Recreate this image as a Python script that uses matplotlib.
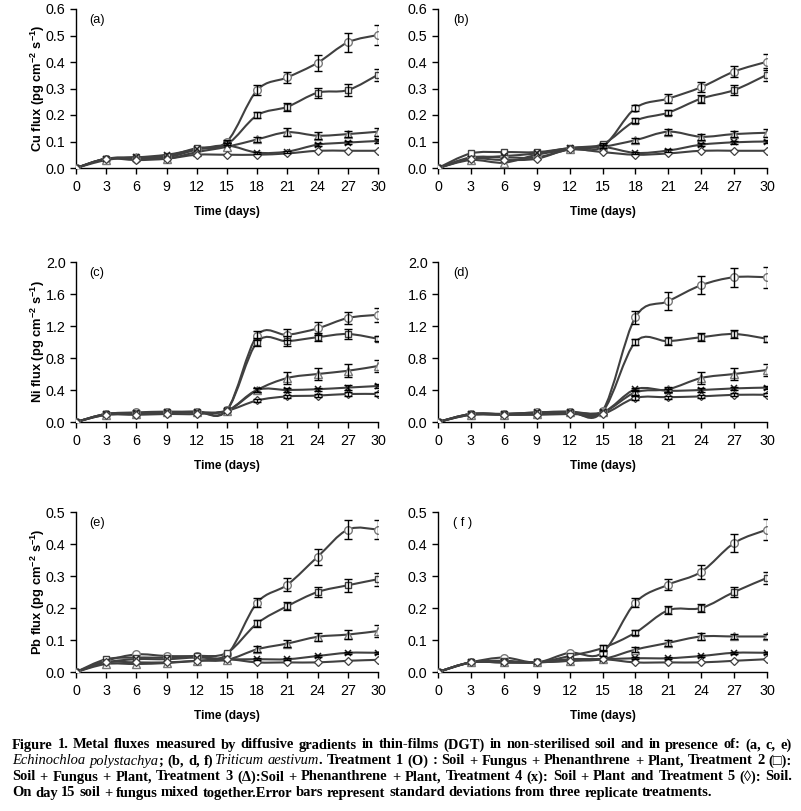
import matplotlib
matplotlib.use("Agg")
import matplotlib.pyplot as plt
from matplotlib.path import Path
from matplotlib.patches import PathPatch

plt.rcParams['font.family'] = ['Liberation Sans', 'DejaVu Sans']
plt.rcParams['mathtext.fontset'] = 'custom'
plt.rcParams['mathtext.rm'] = 'Liberation Sans:bold'
plt.rcParams['mathtext.it'] = 'Liberation Sans:bold'
plt.rcParams['mathtext.bf'] = 'Liberation Sans:bold'
plt.rcParams['mathtext.default'] = 'rm'

days = [0, 3, 6, 9, 12, 15, 18, 21, 24, 27, 30]
x_ticks = [0, 3, 6, 9, 12, 15, 18, 21, 24, 27, 30]

# ---- (a) Cu, Echinochloa polystachya
a_t1 = [0, 0.035, 0.035, 0.04, 0.07, 0.10, 0.294, 0.342, 0.397, 0.474, 0.502]
a_t2 = [0, 0.035, 0.04, 0.045, 0.075, 0.09, 0.199, 0.231, 0.284, 0.294, 0.352]
a_t3 = [0, 0.03, 0.04, 0.035, 0.06, 0.08, 0.108, 0.135, 0.122, 0.128, 0.137]
a_t4 = [0, 0.035, 0.04, 0.05, 0.07, 0.085, 0.058, 0.062, 0.088, 0.096, 0.102]
a_t5 = [0, 0.035, 0.03, 0.035, 0.05, 0.05, 0.05, 0.055, 0.065, 0.065, 0.065]
a_e1 = [0, 0, 0, 0, 0, 0.005, 0.02, 0.022, 0.03, 0.035, 0.038]
a_e2 = [0, 0, 0, 0, 0, 0.005, 0.012, 0.015, 0.018, 0.022, 0.022]
a_e3 = [0, 0, 0, 0, 0, 0, 0.01, 0.015, 0.012, 0.012, 0.015]
a_e4 = [0, 0, 0, 0, 0, 0, 0.004, 0.004, 0.006, 0.006, 0.006]
a_e5 = [0, 0, 0, 0, 0, 0, 0, 0, 0, 0, 0]

# ---- (b) Cu, Triticum aestivum
b_t1 = [0, 0.04, 0.04, 0.04, 0.07, 0.08, 0.226, 0.262, 0.305, 0.364, 0.401]
b_t2 = [0, 0.055, 0.06, 0.06, 0.075, 0.09, 0.178, 0.209, 0.262, 0.294, 0.352]
b_t3 = [0, 0.03, 0.02, 0.05, 0.07, 0.08, 0.105, 0.137, 0.118, 0.128, 0.133]
b_t4 = [0, 0.035, 0.045, 0.055, 0.075, 0.08, 0.057, 0.066, 0.088, 0.097, 0.10]
b_t5 = [0, 0.035, 0.03, 0.035, 0.07, 0.06, 0.05, 0.055, 0.065, 0.065, 0.065]
b_e1 = [0, 0, 0, 0, 0, 0.005, 0.012, 0.018, 0.02, 0.022, 0.03]
b_e2 = [0, 0, 0, 0, 0, 0.005, 0.01, 0.01, 0.015, 0.02, 0.025]
b_e3 = [0, 0, 0, 0, 0, 0, 0.01, 0.012, 0.012, 0.012, 0.015]
b_e4 = [0, 0, 0, 0, 0, 0, 0.005, 0.005, 0.006, 0.006, 0.006]
b_e5 = [0, 0, 0, 0, 0, 0, 0, 0, 0, 0, 0]

# ---- (c) Ni, Echinochloa polystachya
c_t1 = [0, 0.10, 0.12, 0.13, 0.13, 0.15, 1.08, 1.09, 1.17, 1.30, 1.34]
c_t2 = [0, 0.10, 0.11, 0.12, 0.13, 0.15, 1.00, 1.01, 1.06, 1.10, 1.04]
c_t3 = [0, 0.09, 0.10, 0.12, 0.12, 0.14, 0.40, 0.55, 0.60, 0.64, 0.70]
c_t4 = [0, 0.10, 0.11, 0.12, 0.12, 0.14, 0.40, 0.40, 0.41, 0.43, 0.45]
c_t5 = [0, 0.09, 0.09, 0.10, 0.10, 0.14, 0.27, 0.32, 0.33, 0.35, 0.35]
c_e1 = [0, 0, 0, 0, 0, 0, 0.06, 0.07, 0.08, 0.08, 0.09]
c_e2 = [0, 0, 0, 0, 0, 0, 0.05, 0.06, 0.05, 0.06, 0.03]
c_e3 = [0, 0, 0, 0, 0, 0, 0.03, 0.07, 0.07, 0.08, 0.08]
c_e4 = [0, 0, 0, 0, 0, 0, 0.02, 0.03, 0.02, 0.03, 0.03]
c_e5 = [0, 0, 0, 0, 0, 0, 0.02, 0.02, 0.02, 0.02, 0.02]

# ---- (d) Ni, Triticum aestivum
d_t1 = [0, 0.10, 0.10, 0.12, 0.13, 0.14, 1.31, 1.51, 1.71, 1.81, 1.81]
d_t2 = [0, 0.10, 0.10, 0.11, 0.12, 0.13, 1.00, 1.01, 1.06, 1.10, 1.04]
d_t3 = [0, 0.09, 0.09, 0.10, 0.12, 0.12, 0.37, 0.41, 0.55, 0.60, 0.65]
d_t4 = [0, 0.10, 0.10, 0.12, 0.13, 0.12, 0.41, 0.39, 0.40, 0.42, 0.43]
d_t5 = [0, 0.09, 0.09, 0.09, 0.10, 0.10, 0.30, 0.31, 0.32, 0.34, 0.34]
d_e1 = [0, 0, 0, 0, 0, 0, 0.08, 0.11, 0.11, 0.12, 0.13]
d_e2 = [0, 0, 0, 0, 0, 0, 0.04, 0.05, 0.05, 0.05, 0.04]
d_e3 = [0, 0, 0, 0, 0, 0, 0.03, 0.03, 0.07, 0.08, 0.08]
d_e4 = [0, 0, 0, 0, 0, 0, 0.02, 0.02, 0.02, 0.02, 0.02]
d_e5 = [0, 0, 0, 0, 0, 0, 0.02, 0.02, 0.02, 0.02, 0.02]

# ---- (e) Pb, Echinochloa polystachya
e_t1 = [0, 0.035, 0.055, 0.05, 0.05, 0.055, 0.217, 0.273, 0.36, 0.445, 0.445]
e_t2 = [0, 0.04, 0.045, 0.045, 0.05, 0.06, 0.152, 0.206, 0.25, 0.271, 0.29]
e_t3 = [0, 0.025, 0.025, 0.028, 0.035, 0.038, 0.071, 0.089, 0.11, 0.117, 0.128]
e_t4 = [0, 0.03, 0.04, 0.04, 0.045, 0.04, 0.04, 0.04, 0.05, 0.06, 0.06]
e_t5 = [0, 0.03, 0.03, 0.03, 0.035, 0.04, 0.03, 0.03, 0.03, 0.035, 0.038]
e_e1 = [0, 0, 0, 0, 0, 0, 0.015, 0.02, 0.025, 0.03, 0.03]
e_e2 = [0, 0, 0, 0, 0, 0, 0.01, 0.012, 0.015, 0.02, 0.02]
e_e3 = [0, 0, 0, 0, 0, 0, 0.01, 0.01, 0.012, 0.015, 0.018]
e_e4 = [0, 0, 0, 0, 0, 0, 0.003, 0.003, 0.004, 0.004, 0.004]
e_e5 = [0, 0, 0, 0, 0, 0, 0, 0, 0, 0, 0]

# ---- (f) Pb, Triticum aestivum
f_t1 = [0, 0.03, 0.045, 0.03, 0.06, 0.06, 0.217, 0.273, 0.313, 0.403, 0.445]
f_t2 = [0, 0.03, 0.035, 0.03, 0.05, 0.075, 0.123, 0.193, 0.20, 0.25, 0.294]
f_t3 = [0, 0.03, 0.03, 0.03, 0.035, 0.04, 0.07, 0.091, 0.111, 0.111, 0.111]
f_t4 = [0, 0.03, 0.03, 0.03, 0.04, 0.04, 0.043, 0.043, 0.05, 0.06, 0.06]
f_t5 = [0, 0.03, 0.03, 0.03, 0.035, 0.04, 0.03, 0.03, 0.03, 0.035, 0.04]
f_e1 = [0, 0, 0, 0, 0, 0.01, 0.015, 0.018, 0.022, 0.028, 0.032]
f_e2 = [0, 0, 0, 0, 0, 0.008, 0.008, 0.012, 0.012, 0.015, 0.02]
f_e3 = [0, 0, 0, 0, 0, 0, 0.008, 0.01, 0.01, 0.008, 0.008]
f_e4 = [0, 0, 0, 0, 0, 0, 0.003, 0.003, 0.004, 0.004, 0.004]
f_e5 = [0, 0, 0, 0, 0, 0, 0, 0, 0, 0, 0]

panel_letters = ['(a)', '(b)', '(c)', '(d)', '(e)', '( f )']
y_labels = ['Cu flux (pg cm$^{-2}$ s$^{-1}$)', None,
            'Ni flux (pg cm$^{-2}$ s$^{-1}$)', None,
            'Pb flux (pg cm$^{-2}$ s$^{-1}$)', None]
y_ticks_cu = [0.0, 0.1, 0.2, 0.3, 0.4, 0.5, 0.6]
y_ticks_ni = [0.0, 0.4, 0.8, 1.2, 1.6, 2.0]
y_ticks_pb = [0.0, 0.1, 0.2, 0.3, 0.4, 0.5]
x_label = 'Time (days)'

panels = [
    ([a_t1, a_t2, a_t3, a_t4, a_t5], [a_e1, a_e2, a_e3, a_e4, a_e5], y_ticks_cu),
    ([b_t1, b_t2, b_t3, b_t4, b_t5], [b_e1, b_e2, b_e3, b_e4, b_e5], y_ticks_cu),
    ([c_t1, c_t2, c_t3, c_t4, c_t5], [c_e1, c_e2, c_e3, c_e4, c_e5], y_ticks_ni),
    ([d_t1, d_t2, d_t3, d_t4, d_t5], [d_e1, d_e2, d_e3, d_e4, d_e5], y_ticks_ni),
    ([e_t1, e_t2, e_t3, e_t4, e_t5], [e_e1, e_e2, e_e3, e_e4, e_e5], y_ticks_pb),
    ([f_t1, f_t2, f_t3, f_t4, f_t5], [f_e1, f_e2, f_e3, f_e4, f_e5], y_ticks_pb),
]

marker_styles = [
    dict(marker='o', ms=5.5, mfc='white', mec='#7a7a7a', mew=1.0),
    dict(marker='s', ms=5.0, mfc='white', mec='#404040', mew=1.0),
    dict(marker='^', ms=6.0, mfc='white', mec='#7a7a7a', mew=1.0),
    dict(marker='x', ms=5.0, mfc='none', mec='#202020', mew=1.1),
    dict(marker='D', ms=4.3, mfc='white', mec='#404040', mew=0.9),
]
line_color = '#404040'

W_PX, H_PX = 801, 811
fig = plt.figure(figsize=(W_PX / 100, H_PX / 100), dpi=100)

# pixel boxes (left, right, top, bottom)
boxes = [
    (76, 378, 9, 168), (438, 767, 9, 168),
    (76, 378, 262, 422), (438, 767, 262, 422),
    (76, 378, 512, 672), (438, 767, 512, 672),
]


def smooth_path(xs, ys):
    verts = [(xs[0], ys[0])]
    codes = [Path.MOVETO]
    n = len(xs)
    for i in range(n - 1):
        xp, yp = (xs[i - 1], ys[i - 1]) if i > 0 else (xs[i], ys[i])
        xn, yn = (xs[i + 2], ys[i + 2]) if i + 2 < n else (xs[i + 1], ys[i + 1])
        c1 = (xs[i] + (xs[i + 1] - xp) / 6.0, ys[i] + (ys[i + 1] - yp) / 6.0)
        c2 = (xs[i + 1] - (xn - xs[i]) / 6.0, ys[i + 1] - (yn - ys[i]) / 6.0)
        verts += [c1, c2, (xs[i + 1], ys[i + 1])]
        codes += [Path.CURVE4] * 3
    return Path(verts, codes)


for k, ((series, errs, yt), box) in enumerate(zip(panels, boxes)):
    l, r, t, b = box
    ax = fig.add_axes([l / W_PX, 1 - b / H_PX, (r - l) / W_PX, (b - t) / H_PX])
    for s in series:
        ax.add_patch(PathPatch(smooth_path(days, s), fill=False,
                               edgecolor=line_color, lw=1.5, zorder=2))
    for s, ms in zip(series, marker_styles):
        ax.plot(days, s, linestyle='none', zorder=3, **ms)
    for s, e in zip(series, errs):
        dd = [d for d, v in zip(days, e) if v > 0]
        ss = [y for y, v in zip(s, e) if v > 0]
        ee = [v for v in e if v > 0]
        if dd:
            ax.errorbar(dd, ss, yerr=ee, fmt='none', ecolor='black',
                        elinewidth=1.0, capsize=2.9, capthick=1.0, zorder=4)
    ax.set_xlim(0, 30)
    ax.set_ylim(yt[0], yt[-1])
    ax.set_xticks(x_ticks)
    ax.set_yticks(yt)
    ax.set_yticklabels(['%.1f' % v for v in yt])
    for sp in ['top', 'right']:
        ax.spines[sp].set_visible(False)
    for sp in ['left', 'bottom']:
        ax.spines[sp].set_color('black')
        ax.spines[sp].set_linewidth(1.0)
    ax.tick_params(direction='out', length=4.5, width=1.0, labelsize=10.3,
                   colors='black')
    ax.tick_params(axis='x', pad=4)
    ax.tick_params(axis='y', pad=3)
    ax.set_xlabel(x_label, fontsize=8.6, fontweight='bold')
    ax.xaxis.set_label_coords(0.5, -44 / (b - t))
    ax.xaxis.label.set_va('center')
    if y_labels[k]:
        ax.set_ylabel(y_labels[k], fontsize=9.3, fontweight='bold')
        ax.yaxis.set_label_coords(-38 / (r - l), 0.5)
        ax.yaxis.label.set_va('center')
    ax.text(0.045, 0.93, panel_letters[k], transform=ax.transAxes,
            fontsize=9.2, ha='left', va='center')
    ax.patch.set_visible(False)

# ---- caption (justified)
N, I = 'normal', 'italic'
cap_lines = [
    [[("Figure", N)], [("1.", N)], [("Metal", N)], [("fluxes", N)], [("measured", N)], [("by", N)],
     [("diffusive", N)], [("gradients", N)], [("in", N)], [("thin-films", N)], [("(DGT)", N)],
     [("in", N)], [("non-sterilised", N)], [("soil", N)], [("and", N)], [("in", N)], [("presence", N)],
     [("of:", N)], [("(a,", N)], [("c,", N)], [("e)", N)]],
    [[("Echinochloa", I)], [("polystachya", I), (";", N)], [("(b,", N)], [("d,", N)],
     [("f)", N), ("Triticum", I)], [("aestivum", I), (".", N)], [("Treatment", N)], [("1", N)],
     [("(O)", N)], [(":", N)], [("Soil", N)], [("+", N)], [("Fungus", N)], [("+", N)],
     [("Phenanthrene", N)], [("+", N)], [("Plant,", N)], [("Treatment", N)], [("2", N)], [("(\u25a1):", N)]],
    [[("Soil", N)], [("+", N)], [("Fungus", N)], [("+", N)], [("Plant,", N)], [("Treatment", N)],
     [("3", N)], [("(\u0394):Soil", N)], [("+", N)], [("Phenanthrene", N)], [("+", N)], [("Plant,", N)],
     [("Treatment", N)], [("4", N)], [("(x):", N)], [("Soil", N)], [("+", N)], [("Plant", N)],
     [("and", N)], [("Treatment", N)], [("5", N)], [("(\u25ca):", N)], [("Soil.", N)]],
    [[("On", N)], [("day", N)], [("15", N)], [("soil", N)], [("+", N)], [("fungus", N)], [("mixed", N)],
     [("together.Error", N)], [("bars", N)], [("represent", N)], [("standard", N)], [("deviations", N)],
     [("from", N)], [("three", N)], [("replicate", N)], [("treatments.", N)]],
]
cap_y = [745, 761, 777, 793]
cap_left, cap_right = 12, 792
serif = ['Liberation Serif', 'DejaVu Serif']

fig.canvas.draw()
renderer = fig.canvas.get_renderer()


def make_piece(txt, style, fs):
    weight = 'normal' if style == I else 'bold'
    return fig.text(0, 0, txt, fontsize=fs, family=serif, fontweight=weight,
                    fontstyle=style, ha='left', va='center')


def ink_w(txt, style, fs):
    p = make_piece(txt, style, fs)
    w = p.get_window_extent(renderer).width
    p.remove()
    return w


def metrics(txt, style, fs):
    # advance width and ink-left offset (relative to origin, up to a constant)
    base = ink_w('ll', style, fs)
    adv = ink_w('l' + txt + 'l', style, fs) - base
    lpre = ink_w('l' + txt, style, fs) - ink_w('l', style, fs) - ink_w(txt, style, fs)
    return adv, lpre


probe_fs = 10.0
space_w_probe = ink_w('l l', N, probe_fs) - ink_w('ll', N, probe_fs)
nat_widths = []
for line in cap_lines:
    tot = 0.0
    for unit in line:
        for txt, st in unit:
            tot += metrics(txt, st, probe_fs)[0]
    nat_widths.append(tot + space_w_probe * (len(line) - 1))

scales = [(cap_right - cap_left) * 0.99 / w for w in nat_widths[:3]]
scales.append(751.0 / nat_widths[3])
fs = probe_fs * min(scales)
space_w = ink_w('l l', N, fs) - ink_w('ll', N, fs)

for li, line in enumerate(cap_lines):
    mets = [[metrics(txt, st, fs) for txt, st in unit] for unit in line]
    total = sum(sum(m[0] for m in u) for u in mets)
    if li < len(cap_lines) - 1:
        gap = (cap_right - cap_left - total) / (len(line) - 1)
    else:
        gap = space_w
    x = cap_left
    ypix = cap_y[li]
    for unit, ms in zip(line, mets):
        for (txt, st), (adv, lpre) in zip(unit, ms):
            o = make_piece(txt, st, fs)
            o.set_position(((x + lpre) / W_PX, 1 - ypix / H_PX))
            x += adv
        x += gap

fig.savefig('out.png', dpi=100)
